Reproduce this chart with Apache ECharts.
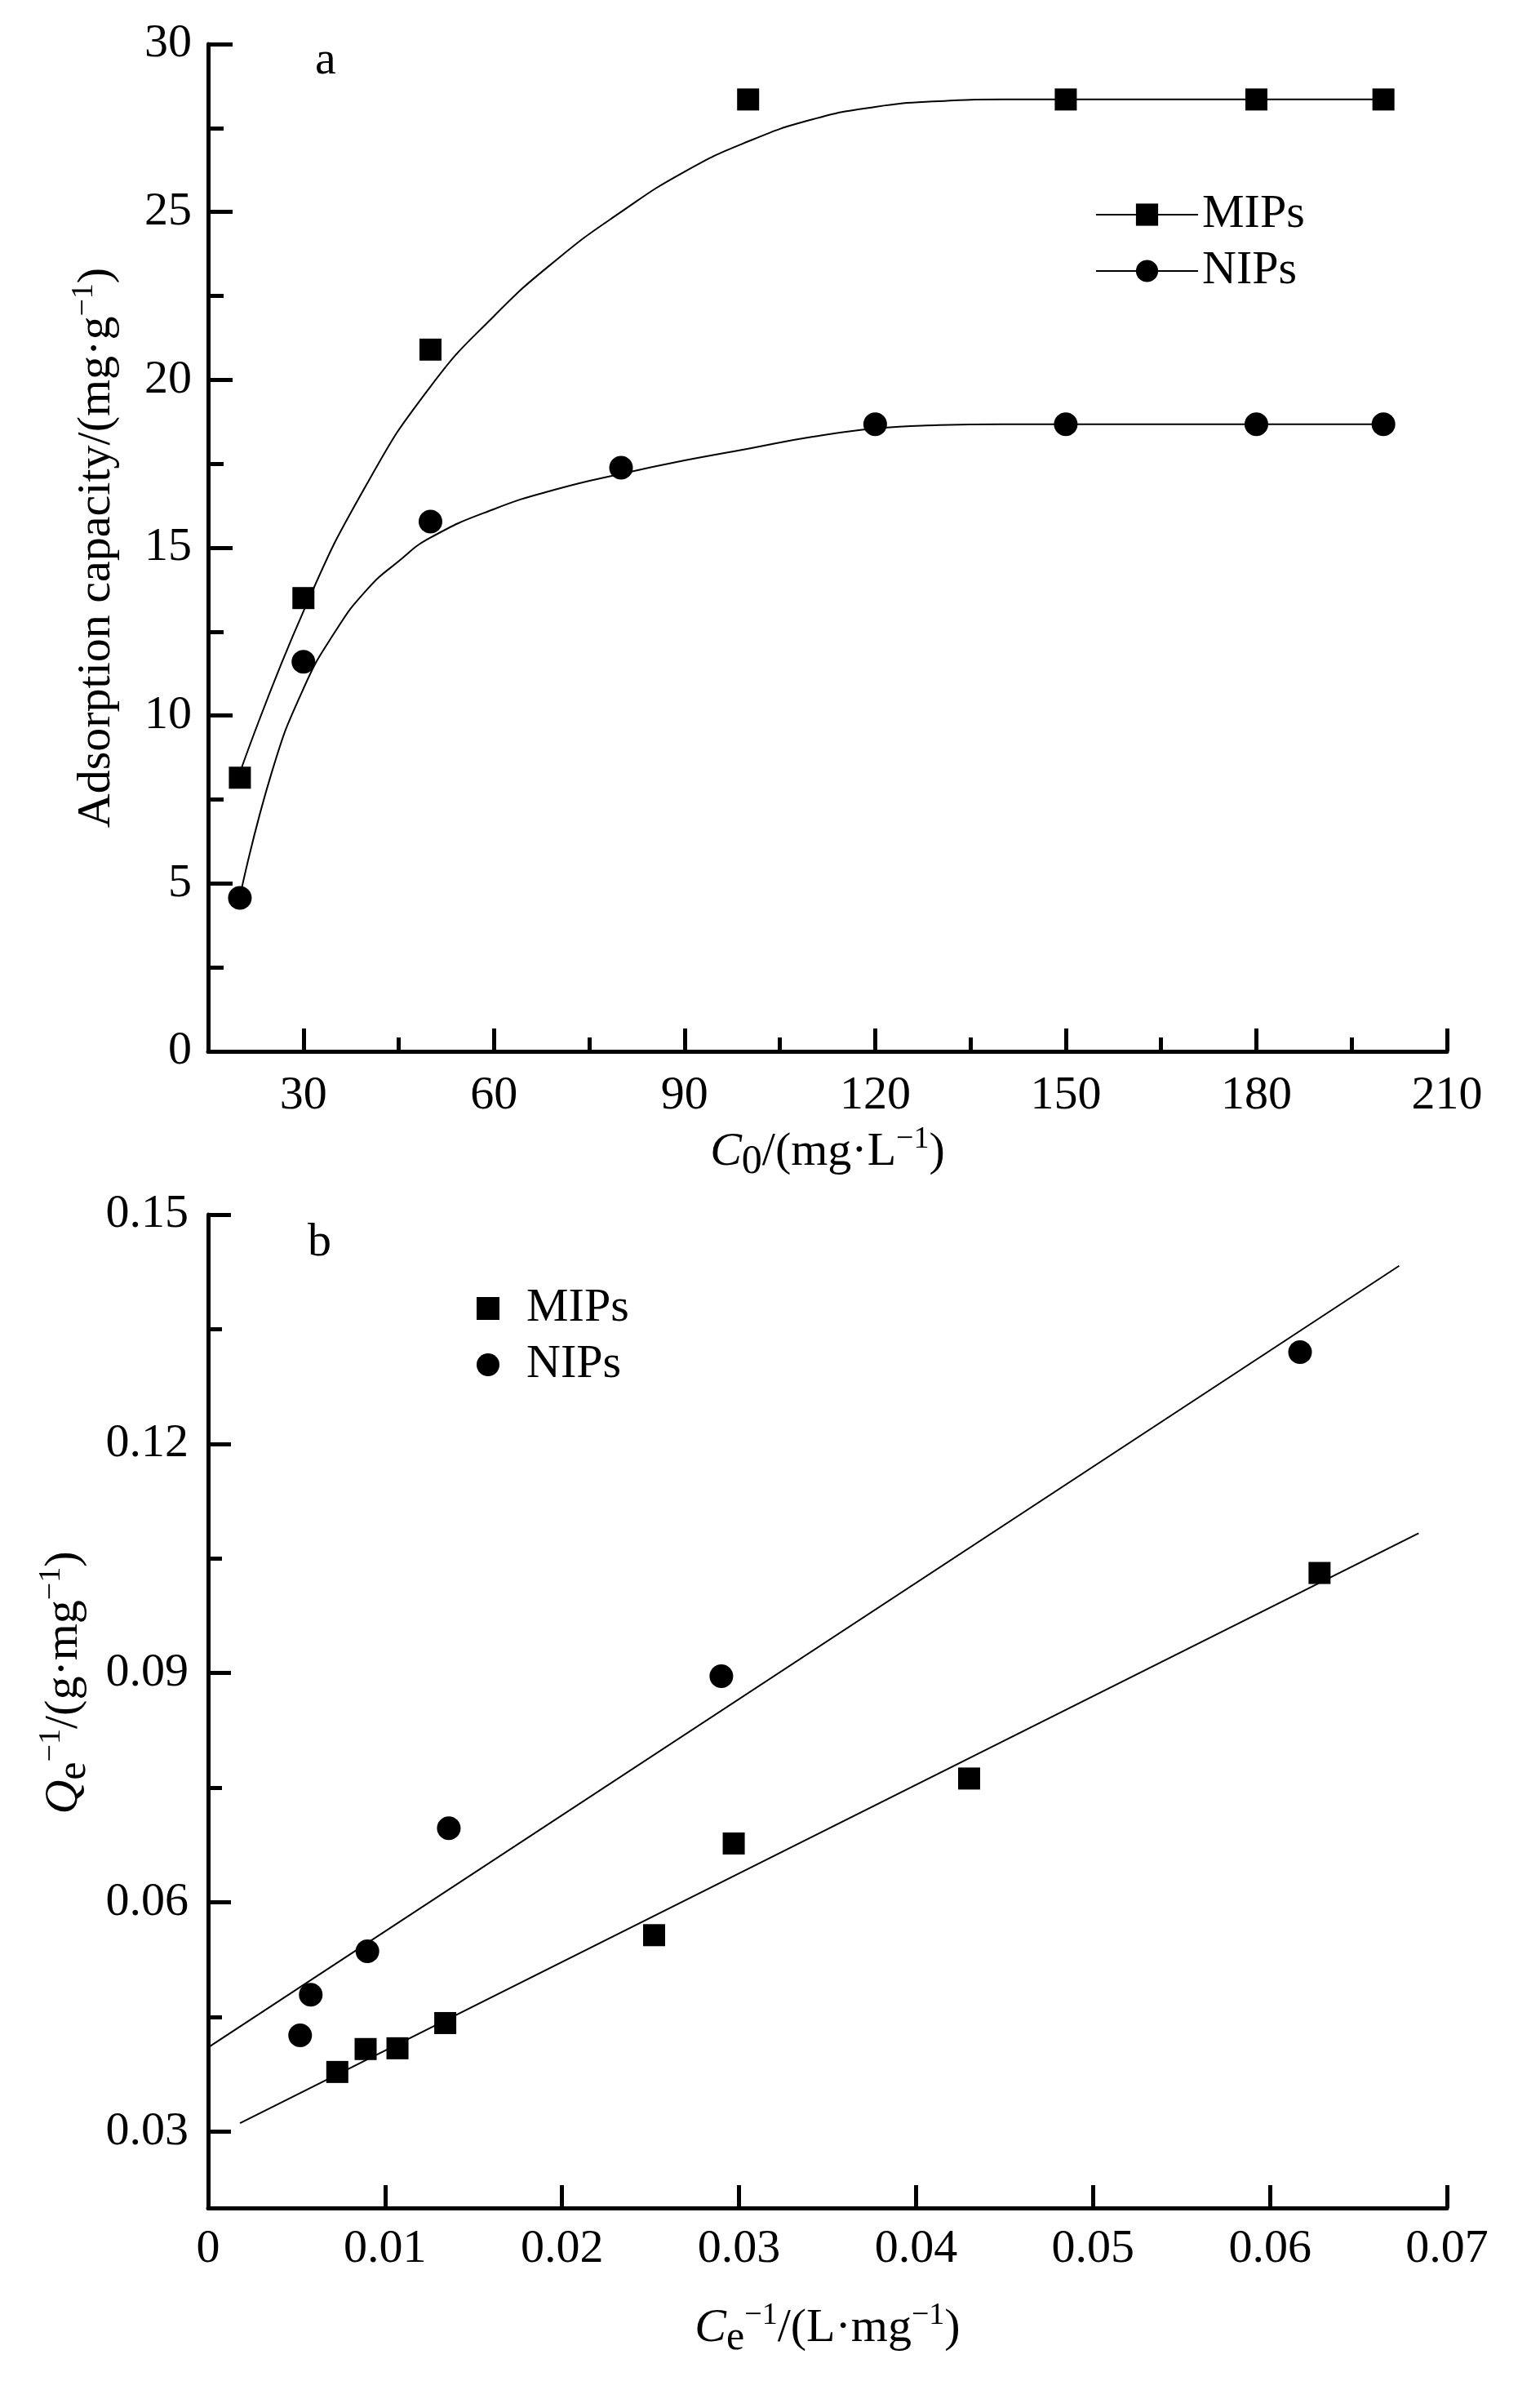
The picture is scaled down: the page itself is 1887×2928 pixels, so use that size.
<!DOCTYPE html>
<html>
<head>
<meta charset="utf-8">
<script src="https://cdn.jsdelivr.net/npm/echarts/dist/echarts.min.js"></script>
<style>
  html, body { margin: 0; padding: 0; background: #fff; }
  #chart { width: 1887px; height: 2928px; }
</style>
</head>
<body>
<div id="chart"></div>
<script>
// ---- panel a: adsorption capacity vs initial concentration ----
const aMipsX = [20, 30, 50, 100, 150, 180, 200];
const aMipsY = [8.15, 13.5, 20.9, 28.35, 28.35, 28.35, 28.35];
const aNipsX = [20, 30, 50, 80, 120, 150, 180, 200];
const aNipsY = [4.57, 11.6, 15.78, 17.38, 18.68, 18.68, 18.68, 18.68];

// fitted curves
const aMipsFitX = [20, 30, 40, 50, 60, 70, 80, 90, 100, 110, 120, 130, 140, 150, 160, 170, 180, 190, 200];
const aMipsFitY = [8.3, 13.1, 16.9, 19.8, 21.9, 23.6, 25.0, 26.2, 27.1, 27.75, 28.13, 28.3, 28.35, 28.35, 28.35, 28.35, 28.35, 28.35, 28.35];
const aNipsFitX = [20, 25, 30, 35, 40, 45, 50, 60, 70, 80, 90, 100, 110, 120, 130, 140, 150, 160, 170, 180, 190, 200];
const aNipsFitY = [4.6, 8.3, 10.8, 12.5, 13.75, 14.6, 15.3, 16.15, 16.75, 17.2, 17.6, 17.95, 18.3, 18.55, 18.65, 18.68, 18.68, 18.68, 18.68, 18.68, 18.68, 18.68];

const aXTicks = [30, 60, 90, 120, 150, 180, 210];
const aXMinor = [45, 75, 105, 135, 165, 195];
const aYTicks = [0, 5, 10, 15, 20, 25, 30];
const aYMinor = [2.5, 7.5, 12.5, 17.5, 22.5, 27.5];

// ---- panel b: Langmuir plot ----
const bMipsX = [0.0073, 0.0089, 0.0107, 0.0134, 0.0252, 0.0297, 0.0430, 0.0628];
const bMipsY = [0.0378, 0.0408, 0.0409, 0.0442, 0.0557, 0.0677, 0.0762, 0.1031];
const bNipsX = [0.0052, 0.0058, 0.0090, 0.0136, 0.0290, 0.0617];
const bNipsY = [0.0426, 0.0479, 0.0536, 0.0697, 0.0896, 0.1320];

// fitted lines (end points)
const bMipsFitX = [0.0018, 0.0684];
const bMipsFitY = [0.0311, 0.1083];
const bNipsFitX = [0.0, 0.0673];
const bNipsFitY = [0.0410, 0.1433];

const bXTicks = [0, 0.01, 0.02, 0.03, 0.04, 0.05, 0.06, 0.07];
const bYTicks = [0.03, 0.06, 0.09, 0.12, 0.15];
const bYMinor = [0.045, 0.075, 0.105, 0.135];

const FONT = "'Liberation Serif', 'Times New Roman', serif";
const FS = 58;

function pairs(xs, ys) {
  return xs.map((x, i) => [x, ys[i]]);
}

const richTitle = {
  i: { fontFamily: FONT, fontSize: FS, fontStyle: 'italic', color: '#000', lineHeight: 72 },
  sub: { fontFamily: FONT, fontSize: 50, color: '#000', lineHeight: 48, padding: [24, 0, 0, 0] },
  sup: { fontFamily: FONT, fontSize: 38, color: '#000', lineHeight: 38, padding: [0, 0, 32, 0] }
};

function nameStyle(extra) {
  return Object.assign({ fontFamily: FONT, fontSize: FS, color: '#000', lineHeight: 72, rich: richTitle }, extra || {});
}

function majorAxis(o) {
  return Object.assign({
    type: 'value',
    axisLine: { show: true, onZero: false, lineStyle: { color: '#000', width: 5 } },
    splitLine: { show: false }
  }, o);
}

function minorAxis(o) {
  return Object.assign({
    type: 'value',
    axisLine: { show: false },
    axisLabel: { show: false },
    splitLine: { show: false }
  }, o);
}

function ticks(values, len) {
  return { show: true, inside: true, length: len, customValues: values, lineStyle: { color: '#000', width: 5 } };
}

const chart = echarts.init(document.getElementById('chart'), null, { renderer: 'canvas' });

const option = {
  backgroundColor: '#fff',
  animation: false,
  grid: [
    { left: 255, right: 114, top: 54, height: 1234 },
    { left: 255, right: 114, top: 1488, height: 1217 }
  ],
  graphic: [
    { type: 'text', left: 386, top: 46, style: { text: 'a', fontFamily: FONT, fontSize: FS, fill: '#000' } },
    { type: 'text', left: 377, top: 1494, style: { text: 'b', fontFamily: FONT, fontSize: FS, fill: '#000' } }
  ],
  legend: [
    {
      data: ['MIPs_a', 'NIPs_a'],
      orient: 'vertical',
      left: 1337, top: 229,
      itemWidth: 125, itemHeight: 34, itemGap: 11, itemTextGap: 12,
      formatter: n => n.split('_')[0],
      textStyle: { fontFamily: FONT, fontSize: FS, color: '#000' }
    },
    {
      data: ['MIPs_b', 'NIPs_b'],
      orient: 'vertical',
      left: 579, top: 1569,
      itemWidth: 28, itemHeight: 28, itemGap: 11, itemTextGap: 36,
      formatter: n => n.split('_')[0],
      textStyle: { fontFamily: FONT, fontSize: FS, color: '#000', padding: [0, 0, 0, 28] }
    }
  ],
  xAxis: [
    majorAxis({
      gridIndex: 0, min: 15, max: 210, position: 'bottom',
      axisTick: ticks(aXTicks, 28),
      axisLabel: { fontFamily: FONT, fontSize: FS, color: '#000', margin: 26, customValues: aXTicks },
      name: '{i|C}{sub|0}/(mg·L{sup|−1})',
      nameLocation: 'middle', nameGap: 88,
      nameTextStyle: nameStyle()
    }),
    minorAxis({ gridIndex: 0, min: 15, max: 210, position: 'bottom', axisTick: ticks(aXMinor, 17) }),
    majorAxis({
      gridIndex: 1, min: 0, max: 0.07, position: 'bottom',
      axisTick: ticks(bXTicks, 28),
      axisLabel: { fontFamily: FONT, fontSize: FS, color: '#000', margin: 22, customValues: bXTicks,
        formatter: v => (v === 0 ? '0' : v.toFixed(2)) },
      name: '{i|C}{sub|e}{sup|−1}/(L·mg{sup|−1})',
      nameLocation: 'middle', nameGap: 112,
      nameTextStyle: nameStyle()
    })
  ],
  yAxis: [
    majorAxis({
      gridIndex: 0, min: 0, max: 30, position: 'left',
      axisTick: ticks(aYTicks, 30),
      axisLabel: { fontFamily: FONT, fontSize: FS, color: '#000', margin: 20, customValues: aYTicks },
      name: 'Adsorption capacity/(mg·g{sup|−1})',
      nameLocation: 'middle', nameGap: 100,
      nameTextStyle: nameStyle()
    }),
    minorAxis({ gridIndex: 0, min: 0, max: 30, position: 'left', axisTick: ticks(aYMinor, 19) }),
    majorAxis({
      gridIndex: 1, min: 0.02, max: 0.15, position: 'left',
      axisTick: ticks(bYTicks, 28),
      axisLabel: { fontFamily: FONT, fontSize: FS, color: '#000', margin: 24, customValues: bYTicks,
        formatter: v => v.toFixed(2) },
      name: '{i|Q}{sub|e}{sup|−1}/(g·mg{sup|−1})',
      nameLocation: 'middle', nameGap: 140,
      nameTextStyle: nameStyle({ padding: [0, 0, 0, 70] })
    }),
    minorAxis({ gridIndex: 1, min: 0.02, max: 0.15, position: 'left', axisTick: ticks(bYMinor, 17) })
  ],
  series: [
    {
      name: 'MIPs_a', type: 'line', xAxisIndex: 0, yAxisIndex: 0,
      data: pairs(aMipsFitX, aMipsFitY),
      smooth: 0.5,
      showSymbol: false, symbol: 'rect', symbolSize: 27,
      itemStyle: { color: '#000' },
      lineStyle: { color: '#000', width: 2 }
    },
    {
      name: 'NIPs_a', type: 'line', xAxisIndex: 0, yAxisIndex: 0,
      data: pairs(aNipsFitX, aNipsFitY),
      smooth: 0.5,
      showSymbol: false, symbol: 'circle', symbolSize: 28,
      itemStyle: { color: '#000' },
      lineStyle: { color: '#000', width: 2 }
    },
    {
      name: 'MIPs a points', type: 'scatter', xAxisIndex: 0, yAxisIndex: 0,
      data: pairs(aMipsX, aMipsY),
      symbol: 'rect', symbolSize: 27, itemStyle: { color: '#000', opacity: 1 }
    },
    {
      name: 'NIPs a points', type: 'scatter', xAxisIndex: 0, yAxisIndex: 0,
      data: pairs(aNipsX, aNipsY),
      symbol: 'circle', symbolSize: 29, itemStyle: { color: '#000', opacity: 1 }
    },
    {
      name: 'MIPs b fit', type: 'line', xAxisIndex: 2, yAxisIndex: 2,
      data: pairs(bMipsFitX, bMipsFitY),
      showSymbol: false, lineStyle: { color: '#000', width: 2 }
    },
    {
      name: 'NIPs b fit', type: 'line', xAxisIndex: 2, yAxisIndex: 2,
      data: pairs(bNipsFitX, bNipsFitY),
      showSymbol: false, lineStyle: { color: '#000', width: 2 }
    },
    {
      name: 'MIPs_b', type: 'scatter', xAxisIndex: 2, yAxisIndex: 2,
      data: pairs(bMipsX, bMipsY),
      symbol: 'rect', symbolSize: 27, itemStyle: { color: '#000', opacity: 1 }
    },
    {
      name: 'NIPs_b', type: 'scatter', xAxisIndex: 2, yAxisIndex: 2,
      data: pairs(bNipsX, bNipsY),
      symbol: 'circle', symbolSize: 29, itemStyle: { color: '#000', opacity: 1 }
    }
  ]
};

chart.setOption(option);
</script>
</body>
</html>
